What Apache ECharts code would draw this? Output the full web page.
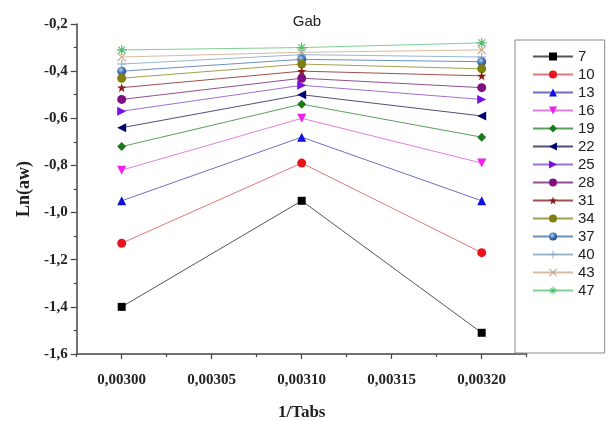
<!DOCTYPE html>
<html>
<head>
<meta charset="utf-8">
<script src="https://cdn.jsdelivr.net/npm/echarts@6/dist/echarts.min.js"></script>
<style>
  html, body { margin: 0; padding: 0; background: #fff; }
  #chart { width: 608px; height: 421px; }
</style>
</head>
<body>
<div id="chart"></div>
<script>
// Reciprocal absolute temperature (x) for the three measured points
const invT = [0.00300, 0.00310, 0.00320];

// Series labels (temperature)
const seriesNames = ['7', '10', '13', '16', '19', '22', '25', '28', '31', '34', '37', '40', '43', '47'];

// Ln(aw) values per series, one value per x point
const ln7  = [-1.40, -0.95, -1.51];
const ln10 = [-1.13, -0.79, -1.17];
const ln13 = [-0.95, -0.68, -0.95];
const ln16 = [-0.82, -0.60, -0.79];
const ln19 = [-0.72, -0.54, -0.68];
const ln22 = [-0.64, -0.50, -0.59];
const ln25 = [-0.57, -0.46, -0.52];
const ln28 = [-0.52, -0.43, -0.47];
const ln31 = [-0.47, -0.40, -0.42];
const ln34 = [-0.43, -0.37, -0.39];
const ln37 = [-0.40, -0.35, -0.36];
const ln40 = [-0.37, -0.33, -0.34];
const ln43 = [-0.34, -0.32, -0.31];
const ln47 = [-0.31, -0.30, -0.28];

// Axis tick positions
const xMajorTicks = [0.00300, 0.00305, 0.00310, 0.00315, 0.00320];
const xMinorTicks = [0.002975, 0.003025, 0.003075, 0.003125, 0.003175, 0.003225];

const values = [ln7, ln10, ln13, ln16, ln19, ln22, ln25, ln28, ln31, ln34, ln37, ln40, ln43, ln47];

// Marker shapes
const plusPath = 'path://M-0.6,-5L0.6,-5L0.6,-0.6L5,-0.6L5,0.6L0.6,0.6L0.6,5L-0.6,5L-0.6,0.6L-5,0.6L-5,-0.6L-0.6,-0.6Z';
const crossPath = 'path://M-4.2,-3.4L-3.4,-4.2L0,-0.8L3.4,-4.2L4.2,-3.4L0.8,0L4.2,3.4L3.4,4.2L0,0.8L-3.4,4.2L-4.2,3.4L-0.8,0Z';
const asteriskPath = 'path://M-0.6,-5L0.6,-5L0.6,-0.6L5,-0.6L5,0.6L0.6,0.6L0.6,5L-0.6,5L-0.6,0.6L-5,0.6L-5,-0.6L-0.6,-0.6Z' +
  'M-3.8,-3L-3,-3.8L0,-0.8L3,-3.8L3.8,-3L0.8,0L3.8,3L3,3.8L0,0.8L-3,3.8L-3.8,3L-0.8,0Z';
const starPath = 'path://M0,-5L1.18,-1.62L4.76,-1.55L1.9,0.62L2.94,4.05L0,2L-2.94,4.05L-1.9,0.62L-4.76,-1.55L-1.18,-1.62Z';

const sphere = {
  type: 'radial', x: 0.4, y: 0.35, r: 0.65,
  colorStops: [{ offset: 0, color: '#b8d2ee' }, { offset: 0.5, color: '#4a7cc0' }, { offset: 1, color: '#24477a' }]
};

const styles = [
  { symbol: 'rect',     size: 8,  rotate: 0,   mark: '#000000', line: '#555555' },
  { symbol: 'circle',   size: 9,  rotate: 0,   mark: '#e8141c', line: '#e07a7a' },
  { symbol: 'triangle', size: 9,  rotate: 0,   mark: '#1010e0', line: '#6a72c0' },
  { symbol: 'triangle', size: 9,  rotate: 180, mark: '#f020f0', line: '#e080e0' },
  { symbol: 'diamond',  size: 9,  rotate: 0,   mark: '#1a7a1a', line: '#5aa05a' },
  { symbol: 'triangle', size: 9,  rotate: 90,  mark: '#000070', line: '#50507a' },
  { symbol: 'triangle', size: 9,  rotate: -90, mark: '#7a10e8', line: '#a070d0' },
  { symbol: 'circle',   size: 9,  rotate: 0,   mark: '#801080', line: '#905090' },
  { symbol: starPath,   size: 9,  rotate: 0,   mark: '#8a1818', line: '#a05050' },
  { symbol: 'circle',   size: 9,  rotate: 0,   mark: '#808010', line: '#a0a050' },
  { symbol: 'circle',   size: 9,  rotate: 0,   mark: sphere,    line: '#6a90c0' },
  { symbol: plusPath,   size: 9,  rotate: 0,   mark: '#8aaac4', line: '#9ab8cc' },
  { symbol: crossPath,  size: 9,  rotate: 0,   mark: '#c8a888', line: '#d8bca0' },
  { symbol: asteriskPath, size: 10, rotate: 0, mark: '#50c070', line: '#80d098' }
];

const series = seriesNames.map((name, i) => ({
  name: name,
  type: 'line',
  xAxisIndex: 0,
  yAxisIndex: 0,
  data: invT.map((x, j) => [x, values[i][j]]),
  symbol: styles[i].symbol,
  symbolSize: styles[i].size,
  symbolRotate: styles[i].rotate,
  showSymbol: true,
  z: 20 - i,
  itemStyle: { color: styles[i].mark, opacity: 1 },
  lineStyle: { color: styles[i].line, width: 1 },
  emphasis: { disabled: true },
  animation: false
}));

const serif = 'Liberation Serif, Times New Roman, serif';
const sans = 'Liberation Sans, Arial, sans-serif';

const chart = echarts.init(document.getElementById('chart'), null, { renderer: 'canvas' });
chart.setOption({
  backgroundColor: '#ffffff',
  animation: false,
  title: {
    text: 'Gab',
    left: 302,
    top: 9,
    textAlign: 'center',
    textStyle: { fontFamily: sans, fontSize: 15, fontWeight: 'normal', color: '#222' }
  },
  legend: {
    orient: 'vertical',
    left: 515,
    top: 40,
    padding: [9, 10, 55, 17],
    itemWidth: 40,
    itemHeight: 10,
    itemGap: 3,
    borderColor: '#8a8a8a',
    borderWidth: 1,
    selectedMode: false,
    textStyle: { fontFamily: sans, fontSize: 15, color: '#222', lineHeight: 15 },
    data: seriesNames
  },
  grid: { left: 76.7, right: 81.3, top: 24, bottom: 67, containLabel: false, outerBoundsMode: 'none' },
  xAxis: [{
    type: 'value',
    min: 0.002975,
    max: 0.003225,
    position: 'bottom',
    name: '1/Tabs',
    nameLocation: 'middle',
    nameGap: 50,
    nameTextStyle: { fontFamily: serif, fontSize: 17, fontWeight: 'bold', color: '#222' },
    axisLine: { show: true, lineStyle: { color: '#444', width: 1.5 } },
    axisTick: { show: true, length: 5, customValues: xMajorTicks, lineStyle: { color: '#444', width: 1.2 } },
    axisLabel: {
      customValues: xMajorTicks,
      margin: 19,
      fontFamily: serif, fontSize: 15, fontWeight: 'bold', color: '#222',
      formatter: v => v.toFixed(5).replace('.', ',')
    },
    splitLine: { show: false }
  }, {
    type: 'value',
    min: 0.002975,
    max: 0.003225,
    position: 'bottom',
    axisLine: { show: false },
    axisTick: { show: true, length: 3, customValues: xMinorTicks, lineStyle: { color: '#444', width: 1.2 } },
    axisLabel: { show: false },
    splitLine: { show: false }
  }],
  yAxis: {
    type: 'value',
    min: -1.6,
    max: -0.2,
    interval: 0.2,
    name: 'Ln(aw)',
    nameLocation: 'middle',
    nameGap: 34,
    nameRotate: 90,
    nameTextStyle: { fontFamily: serif, fontSize: 18, fontWeight: 'bold', color: '#222' },
    axisLine: { show: true, lineStyle: { color: '#444', width: 1.5 } },
    axisTick: { show: true, length: 6, lineStyle: { color: '#444', width: 1.2 } },
    minorTick: { show: true, splitNumber: 2, length: 3, lineStyle: { color: '#444', width: 1.2 } },
    axisLabel: {
      margin: 9,
      fontFamily: serif, fontSize: 15, fontWeight: 'bold', color: '#222',
      formatter: v => v.toFixed(1).replace('.', ',')
    },
    splitLine: { show: false }
  },
  series: series
});
</script>
</body>
</html>
